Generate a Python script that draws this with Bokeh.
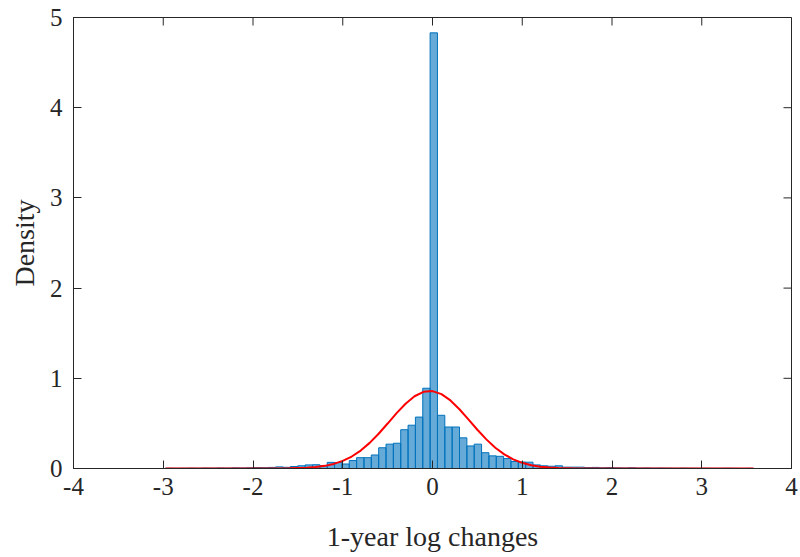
import math
from bokeh.plotting import figure
from bokeh.models import Range1d, FixedTicker
from bokeh.embed import file_html
from bokeh.resources import INLINE

# Histogram (pdf normalised), 80 equal bins
bin_start = -2.975
bin_width = 0.0819
density = [
    0.003, 0.002, 0.003, 0.004, 0.003, 0.005, 0.004, 0.006, 0.005, 0.007,
    0.006, 0.008, 0.010, 0.009, 0.012, 0.018, 0.013, 0.022, 0.030, 0.040,
    0.042, 0.032, 0.068, 0.066, 0.050, 0.088, 0.120, 0.120, 0.150, 0.230,
    0.270, 0.280, 0.430, 0.480, 0.570, 0.890, 4.830, 0.590, 0.460, 0.460,
    0.340, 0.250, 0.270, 0.175, 0.140, 0.135, 0.110, 0.078, 0.072, 0.070,
    0.040, 0.030, 0.025, 0.030, 0.015, 0.015, 0.015, 0.010, 0.012, 0.008,
    0.010, 0.007, 0.006, 0.008, 0.005, 0.006, 0.004, 0.005, 0.004, 0.003,
    0.004, 0.003, 0.002, 0.003, 0.002, 0.002, 0.003, 0.002, 0.001, 0.002,
]

# Fitted normal curve
curve_x = [-2.975, -2.5, -2.0, -1.8, -1.6, -1.4, -1.3, -1.2, -1.1, -1.0,
           -0.9, -0.8, -0.7, -0.6, -0.5, -0.4, -0.3, -0.2, -0.1, 0.0,
           0.1, 0.2, 0.3, 0.4, 0.5, 0.6, 0.7, 0.8, 0.9, 1.0,
           1.1, 1.2, 1.3, 1.4, 1.6, 1.8, 2.0, 2.5, 3.0, 3.577]
curve_y = [0.0, 0.0, 0.0001, 0.0004, 0.002, 0.0084, 0.016, 0.0293, 0.0509, 0.084,
           0.1327, 0.199, 0.284, 0.3855, 0.4985, 0.6134, 0.7183, 0.8008, 0.8497, 0.858,
           0.8249, 0.7547, 0.6572, 0.5448, 0.4298, 0.3228, 0.2307, 0.157, 0.1016, 0.063,
           0.0367, 0.0205, 0.0109, 0.0055, 0.0012, 0.0002, 0.0, 0.0, 0.0, 0.0]

x_ticks = [-4, -3, -2, -1, 0, 1, 2, 3, 4]
x_tick_labels = ["-4", "-3", "-2", "-1", "0", "1", "2", "3", "4"]
y_ticks = [0, 1, 2, 3, 4, 5]
y_tick_labels = ["0", "1", "2", "3", "4", "5"]

n = len(density)
left = [bin_start + i * bin_width for i in range(n)]
right = [bin_start + (i + 1) * bin_width for i in range(n)]

AX = "#262626"
FONT = "Liberation Serif"

p = figure(width=799, height=556, output_backend="svg", toolbar_location=None,
           x_range=Range1d(-4, 4), y_range=Range1d(0, 5),
           frame_width=718, frame_height=451,
           min_border_left=73, min_border_right=8, min_border_top=17, min_border_bottom=88,
           x_axis_label="1-year log changes", y_axis_label="Density")
p.background_fill_color = "white"
p.border_fill_color = "white"
p.outline_line_color = AX
p.outline_line_width = 1
p.grid.visible = False

p.quad(left=left, right=right, bottom=0, top=density,
       fill_color="#0072BD", fill_alpha=0.6,
       line_color="#0072BD", line_width=1)
p.line(curve_x, curve_y, line_color="#FF0000", line_width=2)

# mirrored inward ticks on the top and right edges of the box
p.ray(x=x_ticks, y=[5] * len(x_ticks), length=8, length_units="screen",
      angle=-math.pi / 2, line_color=AX, line_width=1)
p.ray(x=[4] * len(y_ticks), y=y_ticks, length=8, length_units="screen",
      angle=math.pi, line_color=AX, line_width=1)

def style_axis(ax, ticks, labels):
    ax.ticker = FixedTicker(ticks=ticks)
    ax.major_label_overrides = {t: s for t, s in zip(ticks, labels)}
    ax.axis_line_color = AX
    ax.major_tick_line_color = AX
    ax.major_tick_in = 8
    ax.major_tick_out = 0
    ax.minor_tick_line_color = None
    ax.major_label_text_font = FONT
    ax.major_label_text_color = AX
    ax.major_label_text_font_size = "25px"
    ax.axis_label_text_font = FONT
    ax.axis_label_text_color = AX
    ax.axis_label_text_font_size = "28px"
    ax.axis_label_text_font_style = "normal"

style_axis(p.xaxis[0], x_ticks, x_tick_labels)
style_axis(p.yaxis[0], y_ticks, y_tick_labels)
p.xaxis[0].major_label_standoff = 9
p.xaxis[0].axis_label_standoff = 23
p.yaxis[0].major_label_standoff = 11
p.yaxis[0].axis_label_standoff = 7

open("out.html", "w").write(file_html(p, INLINE))
